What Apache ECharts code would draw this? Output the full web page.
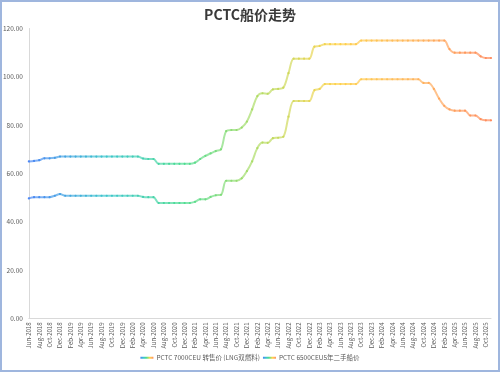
<!DOCTYPE html>
<html><head><meta charset="utf-8">
<script src="https://cdn.jsdelivr.net/npm/echarts@6/dist/echarts.min.js"></script>
<style>
html,body{margin:0;padding:0;background:#fff;}
#c{position:absolute;left:0;top:0;width:500px;height:372px;}
#frame{position:absolute;left:0;top:0;width:500px;height:372px;box-sizing:border-box;border:2px solid #9fb6de;pointer-events:none;}
</style></head>
<body><div id="c"></div><div id="frame"></div>
<script>
const title = 'PCTC船价走势';
const seriesNames = ['PCTC 7000CEU 转售价 (LNG双燃料)', 'PCTC 6500CEU5年二手船价'];
const months = [
 'Jun-2018','Jul-2018','Aug-2018','Sep-2018','Oct-2018','Nov-2018','Dec-2018',
 'Jan-2019','Feb-2019','Mar-2019','Apr-2019','May-2019','Jun-2019','Jul-2019','Aug-2019','Sep-2019','Oct-2019','Nov-2019','Dec-2019',
 'Jan-2020','Feb-2020','Mar-2020','Apr-2020','May-2020','Jun-2020','Jul-2020','Aug-2020','Sep-2020','Oct-2020','Nov-2020','Dec-2020',
 'Jan-2021','Feb-2021','Mar-2021','Apr-2021','May-2021','Jun-2021','Jul-2021','Aug-2021','Sep-2021','Oct-2021','Nov-2021','Dec-2021',
 'Jan-2022','Feb-2022','Mar-2022','Apr-2022','May-2022','Jun-2022','Jul-2022','Aug-2022','Sep-2022','Oct-2022','Nov-2022','Dec-2022',
 'Jan-2023','Feb-2023','Mar-2023','Apr-2023','May-2023','Jun-2023','Jul-2023','Aug-2023','Sep-2023','Oct-2023','Nov-2023','Dec-2023',
 'Jan-2024','Feb-2024','Mar-2024','Apr-2024','May-2024','Jun-2024','Jul-2024','Aug-2024','Sep-2024','Oct-2024','Nov-2024','Dec-2024',
 'Jan-2025','Feb-2025','Mar-2025','Apr-2025','May-2025','Jun-2025','Jul-2025','Aug-2025','Sep-2025','Oct-2025','Nov-2025'
];
const price7000 = [
 65,65.2,65.5,66.3,66.3,66.5,67,
 67,67,67,67,67,67,67,67,67,67,67,67,67,67,67,
 66.2,66,66,
 64,64,64,64,64,64,64,
 64.5,66,67.3,68.3,69.3,70,
 77.5,78,78,79,81.5,86.5,92,93.2,93,94.8,95,95.5,101.5,
 107.5,107.5,107.5,107.5,
 112.5,112.8,
 113.5,113.5,113.5,113.5,113.5,113.5,113.5,
 115,115,115,115,115,115,115,115,115,115,115,115,115,115,115,115,115,
 111.5,110,110,110,110,110,
 108.5,107.8,107.8
];
const price6500 = [
 49.7,50.2,50.2,50.2,50.2,50.8,51.5,
 50.8,50.8,50.8,50.8,50.8,50.8,50.8,50.8,50.8,50.8,50.8,50.8,50.8,50.8,50.8,
 50.3,50.2,50.2,
 47.8,47.8,47.8,47.8,47.8,47.8,47.8,
 48.3,49.3,49.3,50.3,51,51.2,
 57,57,57,58,61,65,70.5,72.8,72.7,74.6,74.8,75.2,83.5,
 90,90,90,90,
 94.5,95,
 97,97,97,97,97,97,97,
 99,99,99,99,99,99,99,99,99,99,99,99,
 97.5,97.5,95,91,88,86.5,86,86,86,84,84,
 82.5,82,82
];
const yTicks = [0,20,40,60,80,100,120];

const stops = [
 {offset:0, color:'#4a86f5'},
 {offset:0.25, color:'#3cc6cc'},
 {offset:0.45, color:'#4cdc92'},
 {offset:0.62, color:'#b4dc62'},
 {offset:0.72, color:'#ffd24c'},
 {offset:0.86, color:'#ffb55c'},
 {offset:1, color:'#ff8a5c'}
];
const grad = () => new echarts.graphic.LinearGradient(0,0,1,0, stops);
const vmColors = stops.map(s=>s.color);

const chart = echarts.init(document.getElementById('c'), null, {renderer:'canvas'});
const font = '"Noto Sans CJK SC", "Noto Sans", sans-serif';
function mkSeries(name, data){
  return {
    name, type:'line', data, smooth:0.35, symbol:'circle', symbolSize:2.2,
    showSymbol:true,
    lineStyle:{width:2, opacity:0.7},
    itemStyle:{opacity:1},
    emphasis:{disabled:true}
  };
}
chart.setOption({
  animation:false,
  textStyle:{fontFamily:font},
  title:{text:title, left:'center', top:3, textStyle:{fontSize:14, fontWeight:'bold', color:'#3a3a3a', fontFamily:font}},
  grid:{left:26, right:9, top:28.5, bottom:53.5},
  visualMap:{show:false, type:'continuous', dimension:0, min:0, max:months.length-1, seriesIndex:[0,1],
    inRange:{color:vmColors}},
  legend:{
    bottom:6, left:'center', itemWidth:13, itemHeight:2, itemGap:3,
    icon:'rect',
    textStyle:{fontSize:6.5, color:'#595959', fontFamily:font, padding:[0,0,0,-2]},
    data:[
      {name:seriesNames[0], itemStyle:{color:grad()}},
      {name:seriesNames[1], itemStyle:{color:grad()}}
    ]
  },
  xAxis:{
    type:'category', data:months, boundaryGap:false,
    axisLine:{lineStyle:{color:'#d9d9d9'}}, axisTick:{show:false},
    axisLabel:{interval:1, rotate:90, fontSize:6, color:'#595959', margin:4, fontFamily:font}
  },
  yAxis:{
    type:'value', min:yTicks[0], max:yTicks[yTicks.length-1], interval:20,
    axisLine:{show:true, lineStyle:{color:'#d9d9d9'}}, axisTick:{show:false},
    splitLine:{show:false},
    axisLabel:{fontSize:6.5, color:'#595959', margin:6, formatter:v=>v.toFixed(2), fontFamily:font}
  },
  series:[mkSeries(seriesNames[0], price7000), mkSeries(seriesNames[1], price6500)]
});
</script>
</body></html>
